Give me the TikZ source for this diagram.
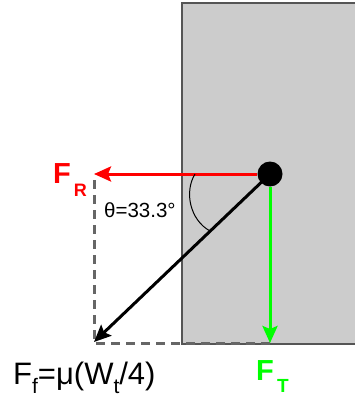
\documentclass[tikz,border=0pt]{standalone}
\usepackage{fontspec}
\setmainfont{Liberation Sans}
\usetikzlibrary{arrows.meta}
\definecolor{wallgray}{HTML}{CCCCCC}
\definecolor{walledge}{HTML}{555555}
\definecolor{dashgray}{HTML}{666666}
\definecolor{fgreen}{HTML}{00FF00}
\definecolor{fred}{HTML}{FF0000}
\begin{document}
\begin{tikzpicture}[x=1pt,y=-1pt,
  force/.style={line width=3pt,-{Stealth[length=17pt,width=15pt,inset=3pt]}},
  guide/.style={dashgray,line width=3pt,dash pattern=on 9pt off 6pt},
  lbl/.style={inner sep=0pt,anchor=base west}]
\useasboundingbox (0,0) rectangle (355,398);
\begin{scope}
\clip (0,0) rectangle (355,398);
\draw[fill=wallgray,draw=walledge,line width=1.8pt] (182,3) rectangle (360,344);
\end{scope}
\coordinate (corner) at (94,343);
\coordinate (rtip) at (94,174);
\coordinate (ttip) at (270,343);
\coordinate (ftip) at (94,342);
\node[circle,fill=black,minimum size=25pt,inner sep=0pt] (dot) at (270,174) {};
\draw[guide] (94,180) -- (corner) -- (ttip);
\draw[force,fred] (dot.west) -- (rtip);
\draw[force,fgreen] (dot.south) -- (ttip);
\draw[force,black] (dot.center) -- (ftip);
\draw[black,line width=1pt] (195,174) .. controls (184,192) and (190,220) .. (210,231);
\node[lbl,text=fred,font=\fontsize{29}{29}\bfseries\selectfont] (fr) at (53,183) {F\raisebox{-13pt}{\fontsize{18}{18}\selectfont\,R}};
\node[lbl,font=\fontsize{20.5}{20.5}\selectfont] (theta) at (104,217) {θ=33.3°};
\node[lbl,font=\fontsize{31}{31}\selectfont] (ff) at (13,384) {F\raisebox{-9pt}{\fontsize{21}{21}\selectfont f}=μ(W\raisebox{-9pt}{\fontsize{21}{21}\selectfont t}/4)};
\node[lbl,text=fgreen,font=\fontsize{29}{29}\bfseries\selectfont] (ft) at (256,380) {F\raisebox{-12pt}{\fontsize{19}{19}\selectfont\,T}};
\end{tikzpicture}
\end{document}
